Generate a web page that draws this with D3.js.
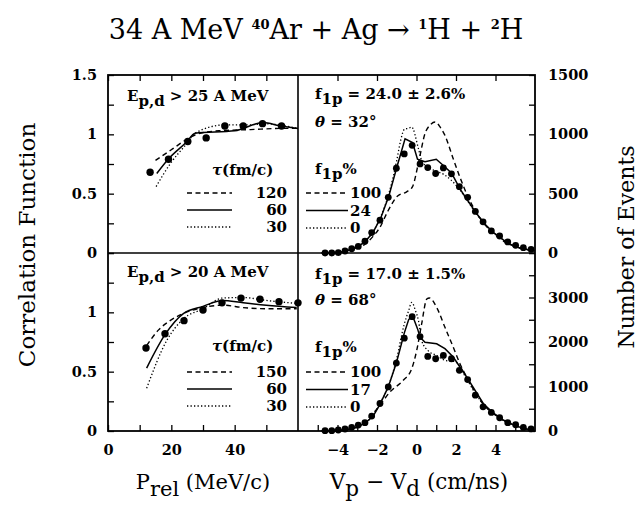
<!DOCTYPE html>
<html>
<head>
<meta charset="utf-8">
<script src="https://cdn.jsdelivr.net/npm/d3@7"></script>
<style>
  body { margin: 0; background: #fff; }
  svg text { fill: #000; }
  .tick text { font-family: "DejaVu Serif"; font-weight: bold; font-size: 14.5px; }
  .tick line { stroke: #000; stroke-width: 1.3; }
  .note { font-family: "DejaVu Serif"; font-weight: bold; font-size: 15px; }
  .label { font-family: "DejaVu Serif"; font-size: 21px; }
</style>
</head>
<body>
<div id="chart"></div>
<script>
// ---- data ----
// left panels: correlation function vs P_rel (MeV/c)
const corrTopX = [13.3, 19.1, 25.2, 31.0, 36.9, 42.7, 48.8, 54.8];
const corrTopY = [0.68, 0.79, 0.94, 0.97, 1.07, 1.07, 1.09, 1.07];
const corrBotX = [12, 18, 24, 30, 36, 42, 48, 54, 60];
const corrBotY = [0.70, 0.82, 0.93, 1.02, 1.08, 1.12, 1.11, 1.09, 1.08];

const tauTop120 = [[15, 0.78], [20, 0.87], [25, 0.96], [28, 1.00], [35, 1.03], [45, 1.04], [55, 1.05], [60, 1.05]];
const tauTop60 = [[15.4, 0.67], [19, 0.79], [24.8, 0.935], [27.5, 1.01], [40, 1.03], [49, 1.10], [54.5, 1.07], [60, 1.05]];
const tauTop30 = [[15.2, 0.56], [19.6, 0.75], [24.8, 0.92], [27.5, 1.01], [37, 1.08], [45, 1.08], [49, 1.09], [60, 1.05]];

const tauBot150 = [[12.2, 0.72], [15.9, 0.85], [19.6, 0.93], [23.8, 0.99], [30, 1.04], [36.4, 1.06], [42.7, 1.04], [50, 1.03], [59.6, 1.03]];
const tauBot60 = [[12.2, 0.53], [18.2, 0.82], [23.8, 0.99], [30, 1.05], [36.1, 1.10], [42.7, 1.08], [50, 1.06], [59.6, 1.04]];
const tauBot30 = [[12.2, 0.36], [18.5, 0.76], [23.8, 0.945], [30, 1.03], [36.1, 1.12], [42.7, 1.125], [50, 1.10], [59.6, 1.075]];

// right panels: number of events vs Vp - Vd (cm/ns)
const velX = [-4.63, -4.29, -3.96, -3.62, -3.28, -2.95, -2.61, -2.27, -1.85, -1.43, -1.02, -0.62, -0.22, 0.18,
  0.57, 0.97, 1.36, 1.77, 2.17, 2.59, 2.98, 3.37, 3.79, 4.21, 4.62, 5.02, 5.41, 5.80];
const eventsTop = [0, 0, 3, 17, 36, 55, 100, 172, 277, 469, 714, 835, 907, 751,
  720, 670, 717, 667, 559, 469, 350, 263, 186, 144, 93, 65, 45, 31];
const eventsBot = [7, 7, 22, 45, 82, 134, 186, 335, 618, 990, 1527, 2086, 2570, 2123,
  1676, 1624, 1698, 1624, 1363, 1155, 804, 543, 417, 298, 186, 140, 80, 50];

const f1pTop100 = [[-4.8, 0], [-4, 5], [-3.4, 25], [-3, 45], [-2.6, 75], [-2.2, 140], [-1.86, 214], [-1.44, 356], [-0.94, 483],
  [-0.5, 515], [-0.2, 560], [0.1, 760], [0.43, 1006], [0.7, 1080], [0.94, 1104], [1.2, 1060], [1.44, 991], [1.86, 794],
  [2.2, 638], [2.62, 469], [3.0, 350], [3.4, 250], [3.8, 180], [4.4, 100], [5.0, 55], [5.4, 35], [6, 17]];
const f1pTop24 = [[-4.8, 0], [-4.2, 2], [-3.8, 8], [-3.4, 25], [-3, 50], [-2.6, 95], [-2.2, 175], [-1.8, 300], [-1.4, 480],
  [-1.0, 720], [-0.58, 963], [-0.2, 930], [0.05, 790], [0.43, 770], [1.0, 790], [1.36, 737], [1.78, 672], [2.2, 540],
  [2.6, 440], [3.05, 330], [3.47, 243], [3.9, 172], [4.4, 110], [4.73, 74], [5.2, 45], [5.6, 30], [6, 17]];
const f1pTop0 = [[-4.8, 0], [-4.2, 2], [-3.8, 8], [-3.4, 25], [-3, 52], [-2.6, 100], [-2.2, 180], [-1.8, 310], [-1.4, 500],
  [-1.0, 780], [-0.8, 950], [-0.6, 1045], [-0.4, 1050], [-0.25, 1062], [0.1, 879], [0.26, 780], [0.6, 720], [1.0, 690],
  [1.4, 660], [1.78, 610], [2.2, 530], [2.6, 435], [3.05, 325], [3.47, 240], [3.9, 170], [4.4, 108], [4.73, 72],
  [5.2, 44], [5.6, 30], [6, 17]];

const f1pBot100 = [[-4.8, 0], [-3.6, 30], [-3, 80], [-2.77, 134], [-2.27, 357], [-1.85, 581], [-1.34, 879], [-0.67, 1140],
  [-0.24, 1400], [0.01, 1810], [0.26, 2407], [0.52, 2965], [0.65, 2990], [1.02, 2778], [1.44, 2331], [1.86, 1884],
  [2.2, 1513], [2.54, 1214], [3.38, 600], [3.9, 390], [4.4, 240], [5, 120], [5.4, 60], [6, 7]];
const f1pBot17 = [[-4.8, 0], [-4.2, 8], [-3.8, 20], [-3.4, 45], [-3, 85], [-2.6, 180], [-2.2, 330], [-1.85, 600],
  [-1.43, 990], [-1.02, 1530], [-0.62, 2200], [-0.4, 2500], [-0.21, 2600], [0.05, 2300], [0.18, 2108], [0.43, 1996],
  [1.02, 1960], [1.44, 1850], [1.86, 1661], [2.54, 1214], [3.38, 619], [3.9, 400], [4.39, 246], [5.0, 120], [5.4, 60], [6, 7]];
const f1pBot0 = [[-4.8, 0], [-4.2, 8], [-3.8, 22], [-3.4, 48], [-3, 90], [-2.6, 190], [-2.2, 345], [-1.85, 620],
  [-1.43, 1000], [-1.02, 1600], [-0.62, 2400], [-0.4, 2700], [-0.24, 2890], [-0.05, 2700], [0.1, 2480], [0.26, 2033],
  [0.6, 1800], [1.0, 1700], [1.5, 1580], [1.95, 1560], [2.5, 1200], [3.0, 830], [3.38, 610], [3.9, 395], [4.39, 240],
  [5.0, 118], [5.4, 58], [6, 7]];

// ticks and legend text
const corrTicks = [0, 0.25, 0.5, 0.75, 1, 1.25, 1.5];
const corrTopLabels = [0, 0.5, 1, 1.5];
const corrBotLabels = [0, 0.5, 1];
const prelTicks = [0, 10, 20, 30, 40, 50];
const prelLabels = [0, 20, 40];
const velTicks = [-5, -4, -3, -2, -1, 0, 1, 2, 3, 4, 5];
const velTopTicks = [-4, -2, 0, 2, 4];
const velLabels = [-4, -2, 0, 2, 4];
const eventsTopTicks = [0, 250, 500, 750, 1000, 1250, 1500];
const eventsTopLabels = [0, 500, 1000, 1500];
const eventsBotTicks = [0, 500, 1000, 1500, 2000, 2500, 3000, 3500, 4000];
const eventsBotLabels = [0, 1000, 2000, 3000];
const tauTopNames = ["120", "60", "30"];
const tauBotNames = ["150", "60", "30"];
const f1pTopNames = ["100", "24", "0"];
const f1pBotNames = ["100", "17", "0"];
const lineStyles = ["dashed", "solid", "dotted"];

// ---- layout ----
const width = 639, height = 506;
const frame = { left: 108, right: 535, top: 75, bottom: 431, midX: 298, midY: 253 };

const svg = d3.select("#chart")
  .append("svg")
  .attr("width", width)
  .attr("height", height);

const xL = d3.scaleLinear().domain([0, 60]).range([frame.left, frame.midX]);
const xR = d3.scaleLinear().domain([-6, 6]).range([frame.midX, frame.right]);
const yLT = d3.scaleLinear().domain([0, 1.5]).range([frame.midY, frame.top]);
const yLB = d3.scaleLinear().domain([0, 1.5]).range([frame.bottom, frame.midY]);
const yRT = d3.scaleLinear().domain([0, 1500]).range([frame.midY, frame.top]);
const yRB = d3.scaleLinear().domain([0, 4000]).range([frame.bottom, frame.midY]);

const fmt = d => String(d).replace("-", "\u2212");
const labelIf = list => d => list.includes(d) ? fmt(d) : "";
const noDomain = g => g.select(".domain").remove();

// axes (ticks point inward)
svg.append("g").attr("transform", `translate(${frame.left},0)`)
  .call(d3.axisLeft(yLT).tickValues(corrTicks).tickSize(-6).tickPadding(11).tickFormat(labelIf(corrTopLabels))).call(noDomain);
svg.append("g").attr("transform", `translate(${frame.left},0)`)
  .call(d3.axisLeft(yLB).tickValues(corrTicks).tickSize(-6).tickPadding(11).tickFormat(labelIf(corrBotLabels))).call(noDomain);
svg.append("g").attr("transform", `translate(${frame.right},0)`)
  .call(d3.axisRight(yRT).tickValues(eventsTopTicks).tickSize(-6).tickPadding(13).tickFormat(labelIf(eventsTopLabels))).call(noDomain);
svg.append("g").attr("transform", `translate(${frame.right},0)`)
  .call(d3.axisRight(yRB).tickValues(eventsBotTicks).tickSize(-6).tickPadding(13).tickFormat(labelIf(eventsBotLabels))).call(noDomain);
svg.append("g").attr("transform", `translate(0,${frame.top})`)
  .call(d3.axisTop(xL).tickValues(prelTicks).tickSize(-6).tickFormat("")).call(noDomain);
svg.append("g").attr("transform", `translate(0,${frame.top})`)
  .call(d3.axisTop(xR).tickValues(velTopTicks).tickSize(-6).tickFormat("")).call(noDomain);
svg.append("g").attr("transform", `translate(0,${frame.bottom})`)
  .call(d3.axisBottom(xL).tickValues(prelTicks).tickSize(-6).tickPadding(14).tickFormat(labelIf(prelLabels))).call(noDomain);
svg.append("g").attr("transform", `translate(0,${frame.bottom})`)
  .call(d3.axisBottom(xR).tickValues(velTicks).tickSize(-6).tickPadding(14).tickFormat(labelIf(velLabels))).call(noDomain);

// frame and dividers
svg.append("rect")
  .attr("x", frame.left).attr("y", frame.top)
  .attr("width", frame.right - frame.left).attr("height", frame.bottom - frame.top)
  .attr("fill", "none").attr("stroke", "#000").attr("stroke-width", 1.8);
svg.append("line").attr("x1", frame.midX).attr("x2", frame.midX).attr("y1", frame.top).attr("y2", frame.bottom)
  .attr("stroke", "#000").attr("stroke-width", 1.6);
svg.append("line").attr("x1", frame.left).attr("x2", frame.right).attr("y1", frame.midY).attr("y2", frame.midY)
  .attr("stroke", "#000").attr("stroke-width", 1.6);

// curves
function styleLine(sel, kind) {
  sel.attr("fill", "none").attr("stroke", "#000");
  if (kind == "dashed") sel.attr("stroke-width", 1.4).attr("stroke-dasharray", "5,3.5");
  else if (kind == "dotted") sel.attr("stroke-width", 1.3).attr("stroke-dasharray", "1.3,2.2");
  else sel.attr("stroke-width", 1.5);
  return sel;
}

function drawCurve(data, x, y, kind, curve) {
  const line = d3.line().x(d => x(d[0])).y(d => y(d[1])).curve(curve);
  styleLine(svg.append("path").attr("d", line(data)), kind);
}

drawCurve(tauTop120, xL, yLT, "dashed", d3.curveMonotoneX);
drawCurve(tauTop60, xL, yLT, "solid", d3.curveMonotoneX);
drawCurve(tauTop30, xL, yLT, "dotted", d3.curveMonotoneX);
drawCurve(tauBot150, xL, yLB, "dashed", d3.curveMonotoneX);
drawCurve(tauBot60, xL, yLB, "solid", d3.curveMonotoneX);
drawCurve(tauBot30, xL, yLB, "dotted", d3.curveMonotoneX);

drawCurve(f1pTop100, xR, yRT, "dashed", d3.curveMonotoneX);
drawCurve(f1pTop0, xR, yRT, "dotted", d3.curveMonotoneX);
drawCurve(f1pTop24, xR, yRT, "solid", d3.curveLinear);
drawCurve(f1pBot100, xR, yRB, "dashed", d3.curveMonotoneX);
drawCurve(f1pBot0, xR, yRB, "dotted", d3.curveMonotoneX);
drawCurve(f1pBot17, xR, yRB, "solid", d3.curveLinear);

// data points
function drawPoints(xs, ys, x, y, r) {
  svg.append("g").selectAll("circle")
    .data(xs.map((d, i) => [d, ys[i]]))
    .enter().append("circle")
    .attr("cx", d => x(d[0]))
    .attr("cy", d => y(d[1]))
    .attr("r", r)
    .attr("fill", "#000");
}
drawPoints(corrTopX, corrTopY, xL, yLT, 3.7);
drawPoints(corrBotX, corrBotY, xL, yLB, 3.7);
drawPoints(velX, eventsTop, xR, yRT, 3.4);
drawPoints(velX, eventsBot, xR, yRB, 3.4);

// text helper: parts shifted up / down with dy
function richText(x, y, parts, cls, anchor) {
  const t = svg.append("text").attr("class", cls).attr("x", x).attr("y", y)
    .attr("text-anchor", anchor || "start");
  let shift = 0;
  parts.forEach(p => {
    const s = p.dy || 0;
    const ts = t.append("tspan").attr("dy", s - shift).text(p.t);
    if (p.size) ts.style("font-size", p.size + "px");
    if (p.italic) ts.style("font-style", "italic");
    if (p.bold) ts.style("font-weight", "bold");
    shift = s;
  });
  return t;
}

// title
richText(316, 39, [
  { t: "34 A MeV " }, { t: "40", dy: -10, size: 13, bold: true }, { t: "Ar + Ag \u2192 " },
  { t: "1", dy: -10, size: 13, bold: true }, { t: "H + " }, { t: "2", dy: -10, size: 13, bold: true }, { t: "H" }
], "label", "middle").style("font-size", "27px");

// axis titles
richText(203, 489, [{ t: "P" }, { t: "rel", dy: 7 }, { t: " (MeV/c)" }], "label", "middle");
richText(419, 489, [{ t: "V" }, { t: "p", dy: 7 }, { t: " \u2212 V" }, { t: "d", dy: 7 }, { t: " (cm/ns)" }], "label", "middle")
  .style("font-size", "21.5px");
svg.append("text").attr("class", "label").attr("text-anchor", "middle").style("font-size", "23px")
  .attr("transform", "translate(35,245) rotate(-90)").text("Correlation Function");
svg.append("text").attr("class", "label").attr("text-anchor", "middle").style("font-size", "22px")
  .attr("transform", "translate(634,247) rotate(-90)").text("Number of Events");

// panel notes
richText(127, 101, [{ t: "E" }, { t: "p,d", dy: 5 }, { t: " > 25 A MeV" }], "note");
richText(127, 277, [{ t: "E" }, { t: "p,d", dy: 5 }, { t: " > 20 A MeV" }], "note");
richText(315, 99, [{ t: "f" }, { t: "1p", dy: 5 }, { t: " = 24.0 \u00b1 2.6%" }], "note");
richText(315, 127, [{ t: "\u03b8", italic: true }, { t: " = 32\u00b0" }], "note");
richText(315, 279, [{ t: "f" }, { t: "1p", dy: 5 }, { t: " = 17.0 \u00b1 1.5%" }], "note");
richText(315, 305, [{ t: "\u03b8", italic: true }, { t: " = 68\u00b0" }], "note");

// legends
function legend(titleParts, tx, ty, names, lx1, lx2, ly0, step, nx, anchor) {
  richText(tx, ty, titleParts, "note");
  names.forEach((n, i) => {
    const ly = ly0 + i * step;
    styleLine(svg.append("line").attr("x1", lx1).attr("x2", lx2).attr("y1", ly).attr("y2", ly), lineStyles[i]);
    svg.append("text").attr("class", "note").attr("x", nx).attr("y", ly + 5)
      .attr("text-anchor", anchor).text(n);
  });
}
const tauTitle = [{ t: "\u03c4", italic: true }, { t: "(fm/c)" }];
const f1pTitle = [{ t: "f" }, { t: "1p", dy: 5 }, { t: "%", dy: 0 }];
legend(tauTitle, 212, 175, tauTopNames, 187, 232, 193, 17, 287, "end");
legend(tauTitle, 212, 351, tauBotNames, 187, 232, 372, 17, 287, "end");
legend(f1pTitle, 315, 174, f1pTopNames, 306, 348, 193, 17.5, 350, "start");
legend(f1pTitle, 315, 352, f1pBotNames, 306, 348, 372, 17.5, 350, "start");
</script>
</body>
</html>
